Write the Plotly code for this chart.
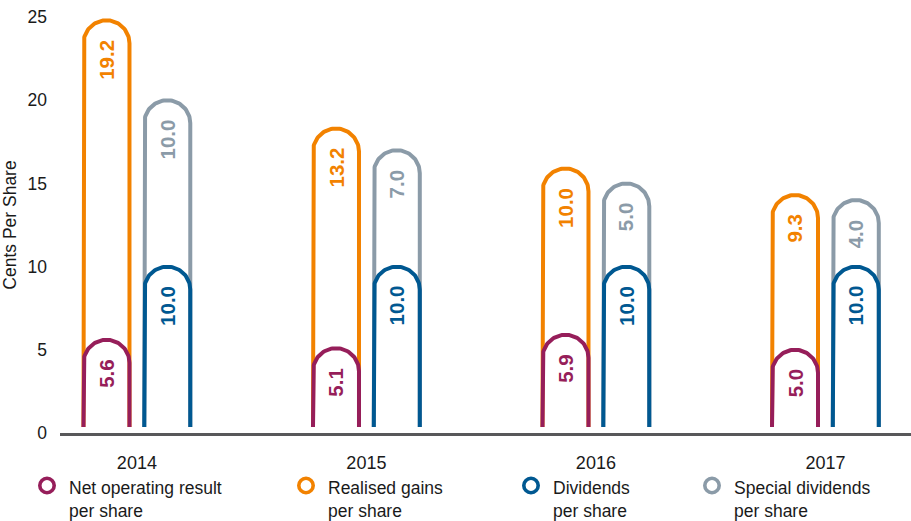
import numpy as np
import plotly.graph_objects as go

# ---- data -------------------------------------------------------------
years = ["2014", "2015", "2016", "2017"]
net_operating = [5.6, 5.1, 5.9, 5.0]
realised_gains = [19.2, 13.2, 10.0, 9.3]
dividends = [10.0, 10.0, 10.0, 10.0]
special_dividends = [10.0, 7.0, 5.0, 4.0]

# ---- styling ----------------------------------------------------------
MAROON = "#961e5a"
ORANGE = "#f28200"
BLUE = "#005891"
GREY = "#8b9ba8"
TEXT = "#1a1a1a"
FONT = "Liberation Sans, Arial, Helvetica, sans-serif"

W, H = 911, 521
M_L, M_R, M_T, M_B = 60, 0, 17, 88
PLOT_W, PLOT_H = W - M_L - M_R, H - M_T - M_B
X_RANGE = [-0.335, 3.373]
Y_RANGE = [0, 25]
PX_X = PLOT_W / (X_RANGE[1] - X_RANGE[0])   # pixels per category unit
PX_Y = PLOT_H / (Y_RANGE[1] - Y_RANGE[0])   # pixels per cent

BAR_OFFSET = 30.4 / PX_X     # distance of each pillar from the group centre
HALF_W = 23.0 / PX_X         # half width of a pillar
ARC_R = 23.0 / PX_Y          # semicircle radius in y units
BASE_GAP = 6.0 / PX_Y        # pillars stop just above the baseline
LINE_W = 4


def pillar(xc, top):
    """Outline of an open-bottom pillar with a semicircular cap."""
    t = np.linspace(np.pi, 0, 61)
    arc_x = xc + HALF_W * np.cos(t)
    arc_y = top - ARC_R + ARC_R * np.sin(t)
    xs = np.concatenate([[xc - HALF_W], arc_x, [xc + HALF_W]])
    ys = np.concatenate([[BASE_GAP], arc_y, [BASE_GAP]])
    return xs, ys


fig = go.Figure()

totals_left = [a + b for a, b in zip(net_operating, realised_gains)]
totals_right = [a + b for a, b in zip(dividends, special_dividends)]

# draw the taller (stacked) outline first, then the lower segment over it
series = [
    (-BAR_OFFSET, totals_left, ORANGE),
    (-BAR_OFFSET, net_operating, MAROON),
    (BAR_OFFSET, totals_right, GREY),
    (BAR_OFFSET, dividends, BLUE),
]
for offset, tops, colour in series:
    for i, top in enumerate(tops):
        xs, ys = pillar(i + offset, top)
        fig.add_trace(go.Scatter(
            x=xs, y=ys, mode="lines",
            line=dict(color=colour, width=LINE_W),
            hoverinfo="skip", showlegend=False,
        ))

# value labels, written vertically under each cap
label_sets = [
    (-BAR_OFFSET, totals_left, realised_gains, ORANGE),
    (-BAR_OFFSET, net_operating, net_operating, MAROON),
    (BAR_OFFSET, totals_right, special_dividends, GREY),
    (BAR_OFFSET, dividends, dividends, BLUE),
]
for offset, tops, values, colour in label_sets:
    for i, (top, v) in enumerate(zip(tops, values)):
        fig.add_annotation(
            x=i + offset, y=top, xref="x", yref="y",
            text=f"<b>{v:.1f}</b>", textangle=-90,
            xanchor="center", yanchor="top", yshift=-18,
            showarrow=False, borderpad=0,
            font=dict(family=FONT, size=20.5, color=colour),
        )

# legend row beneath the axis
def paper_x(px):
    return (px - M_L) / PLOT_W


def paper_y(py):
    return (H - M_B - py) / PLOT_H


legend_items = [
    ("Net operating result<br>per share", MAROON, 47),
    ("Realised gains<br>per share", ORANGE, 306),
    ("Dividends<br>per share", BLUE, 531),
    ("Special dividends<br>per share", GREY, 712),
]
LEG_Y = 485.5
for label, colour, cx in legend_items:
    fig.add_shape(
        type="circle", xref="paper", yref="paper",
        xsizemode="pixel", ysizemode="pixel",
        xanchor=paper_x(cx), yanchor=paper_y(LEG_Y),
        x0=-7.2, x1=7.2, y0=-7.2, y1=7.2,
        line=dict(color=colour, width=3.6),
    )
    fig.add_annotation(
        x=paper_x(cx + 20.5), y=paper_y(499.5), xref="paper", yref="paper",
        text=label, align="left", xanchor="left", yanchor="middle",
        showarrow=False, borderpad=0,
        font=dict(family=FONT, size=17.5, color=TEXT),
    )

fig.update_layout(
    width=W, height=H,
    margin=dict(l=M_L, r=M_R, t=M_T, b=M_B, autoexpand=False),
    paper_bgcolor="white", plot_bgcolor="white",
    font=dict(family=FONT, size=17, color=TEXT),
    showlegend=False,
)
fig.update_xaxes(
    range=X_RANGE, tickmode="array",
    tickvals=list(range(len(years))), ticktext=years,
    showgrid=False, zeroline=False,
    showline=True, linecolor="#58585a", linewidth=3,
    ticks="", ticklabelstandoff=11,
    tickfont=dict(size=18),
)
fig.update_yaxes(
    range=Y_RANGE, tickmode="array", tickvals=[0, 5, 10, 15, 20, 25],
    showgrid=False, zeroline=False, showline=False,
    ticks="", ticklabelstandoff=12,
    tickfont=dict(size=17.5),
    title=dict(text="Cents Per Share", standoff=6, font=dict(size=17.5)),
)

fig.write_html("out.html")
